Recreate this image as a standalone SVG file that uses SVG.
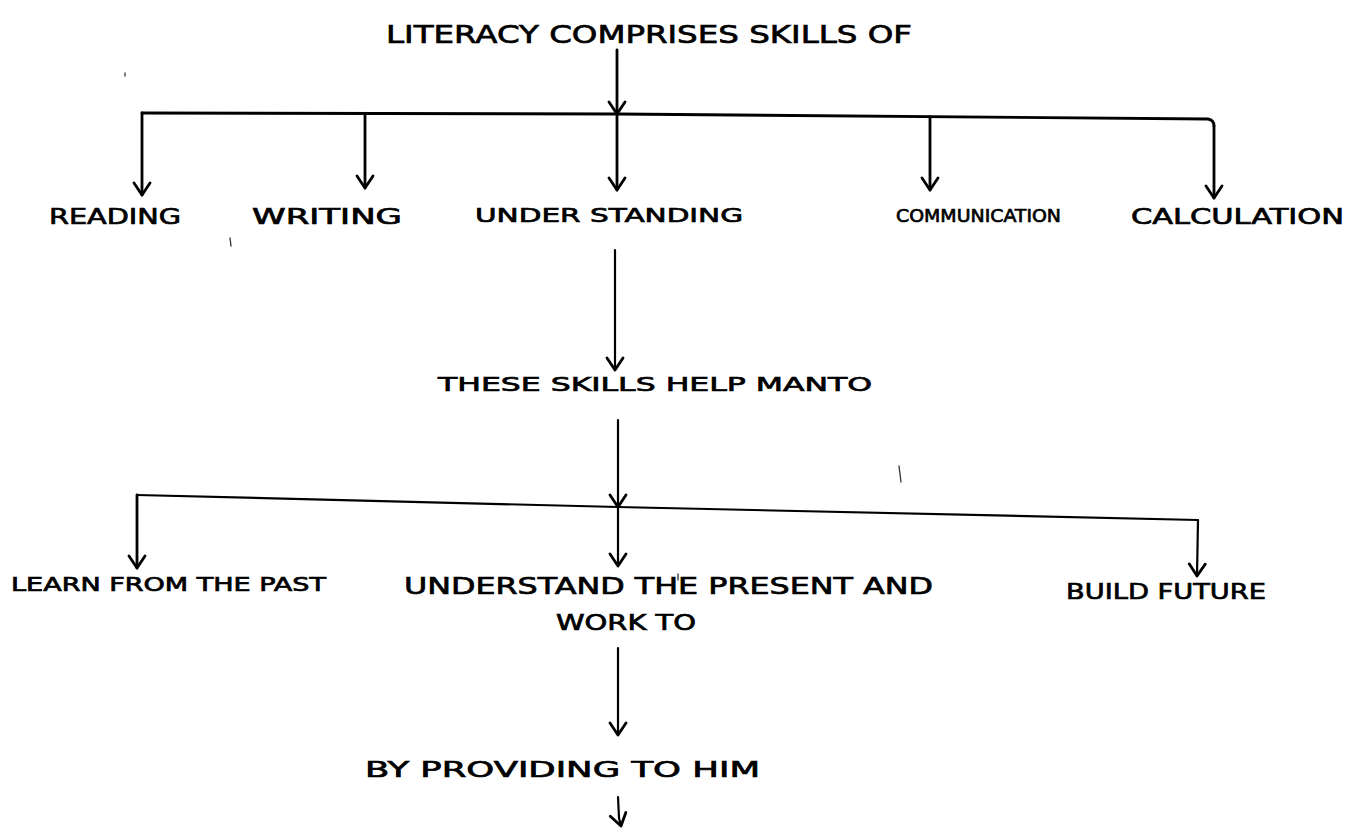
<svg xmlns="http://www.w3.org/2000/svg" width="1359" height="835" viewBox="0 0 1359 835">
<defs>
<style>
.lbl{font-family:"DejaVu Sans","Liberation Sans",sans-serif;fill:#000;stroke:#000;stroke-width:0.7;}
.ln{fill:none;stroke:#000;stroke-width:2.8;stroke-linecap:round;stroke-linejoin:round;}
.thin{fill:none;stroke:#000;stroke-width:2.2;stroke-linecap:round;stroke-linejoin:round;}
.speck{fill:none;stroke:#333;stroke-width:1.3;stroke-linecap:round;}
</style>
<marker id="ah" markerUnits="userSpaceOnUse" viewBox="0 0 20 20" refX="18" refY="10" markerWidth="20" markerHeight="20" orient="auto">
<path d="M6,2 L18,10 L6,18" fill="none" stroke="#000" stroke-width="2.8" stroke-linecap="round" stroke-linejoin="round"/>
</marker>
</defs>
<rect width="1359" height="835" fill="#fff"/>

<g id="connectors">
<path class="ln" d="M617,50 L617,114" marker-end="url(#ah)"/>
<path class="ln" d="M142,113 L617,114 L1208,119 Q1214,120 1214,126"/>
<path class="ln" d="M142,113 L142,195" marker-end="url(#ah)"/>
<path class="ln" d="M365,114 L365,188" marker-end="url(#ah)"/>
<path class="ln" d="M617,114 L617,190" marker-end="url(#ah)"/>
<path class="ln" d="M930,117 L930,190" marker-end="url(#ah)"/>
<path class="ln" d="M1214,126 L1214,198" marker-end="url(#ah)"/>
<path class="thin" d="M615,250 L615,370" marker-end="url(#ah)"/>
<path class="thin" d="M618,420 L618,507" marker-end="url(#ah)"/>
<path class="thin" d="M137,495 L618,507 L1198,520"/>
<path class="ln" d="M137,495 L137,568" marker-end="url(#ah)"/>
<path class="thin" d="M618,507 L618,566" marker-end="url(#ah)"/>
<path class="thin" d="M1198,520 L1197,576" marker-end="url(#ah)"/>
<path class="thin" d="M618,648 L618,735" marker-end="url(#ah)"/>
<path class="thin" d="M618,797 L619,818 L621,826" marker-end="url(#ah)"/>
</g>

<g id="specks">
<path class="speck" d="M230,238 L231,246"/>
<path class="speck" d="M899,466 L901,482"/>
<path class="speck" d="M678,574 L678,580"/>
<path class="speck" d="M125,73 L125,76"/>
</g>

<g id="n-title"><text class="lbl" x="386" y="43" font-size="25" textLength="526" lengthAdjust="spacingAndGlyphs">LITERACY COMPRISES SKILLS OF</text></g>
<g id="n-reading"><text class="lbl" x="49" y="224" font-size="21" textLength="132" lengthAdjust="spacingAndGlyphs">READING</text></g>
<g id="n-writing"><text class="lbl" x="252" y="224" font-size="21" textLength="150" lengthAdjust="spacingAndGlyphs">WRITING</text></g>
<g id="n-understanding"><text class="lbl" x="475" y="222" font-size="20" textLength="268" lengthAdjust="spacingAndGlyphs">UNDER STANDING</text></g>
<g id="n-communication"><text class="lbl" x="896" y="222" font-size="18" textLength="165" lengthAdjust="spacingAndGlyphs">COMMUNICATION</text></g>
<g id="n-calculation"><text class="lbl" x="1131" y="224" font-size="21" textLength="213" lengthAdjust="spacingAndGlyphs">CALCULATION</text></g>
<g id="n-these"><text class="lbl" x="438" y="391" font-size="20" textLength="434" lengthAdjust="spacingAndGlyphs">THESE SKILLS HELP MANTO</text></g>
<g id="n-learn"><text class="lbl" x="11" y="591" font-size="19" textLength="315" lengthAdjust="spacingAndGlyphs">LEARN FROM THE PAST</text></g>
<g id="n-understand"><text class="lbl" x="404" y="594" font-size="23" textLength="529" lengthAdjust="spacingAndGlyphs">UNDERSTAND THE PRESENT AND</text>
<text class="lbl" x="556" y="630" font-size="21" textLength="140" lengthAdjust="spacingAndGlyphs">WORK TO</text></g>
<g id="n-build"><text class="lbl" x="1066" y="599" font-size="22" textLength="200" lengthAdjust="spacingAndGlyphs">BUILD FUTURE</text></g>
<g id="n-providing"><text class="lbl" x="365" y="777" font-size="21" textLength="395" lengthAdjust="spacingAndGlyphs">BY PROVIDING TO HIM</text></g>
</svg>
